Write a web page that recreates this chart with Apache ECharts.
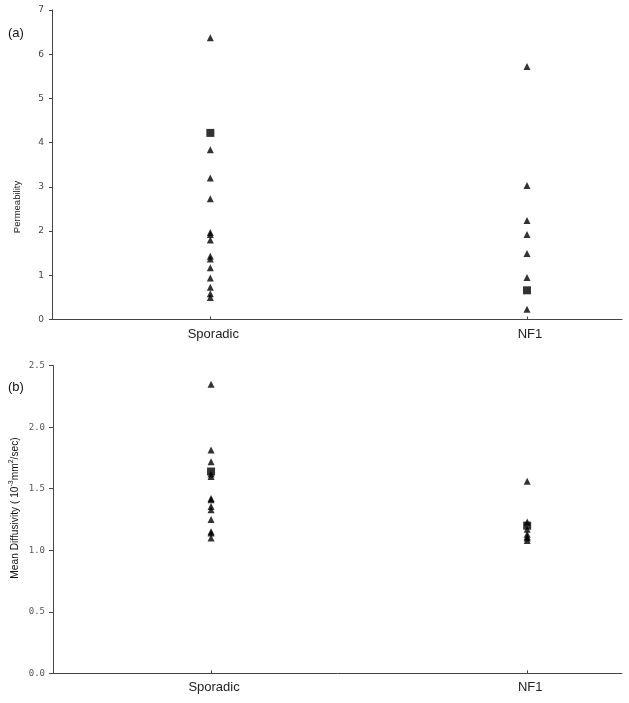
<!DOCTYPE html>
<html>
<head>
<meta charset="utf-8">
<script src="https://cdn.jsdelivr.net/npm/echarts@6/dist/echarts.min.js"></script>
<style>html,body{margin:0;padding:0;background:#fff}#c{width:629px;height:703px}</style>
</head>
<body>
<div id="c"></div>
<script>
// ---- data ----
var categories = ['Sporadic', 'NF1'];
// (a) Permeability
var permSporadic = [6.37, 3.84, 3.20, 2.73, 1.97, 1.92, 1.80, 1.43, 1.37, 1.17, 0.94, 0.73, 0.58, 0.50];
var permNF1 = [5.72, 3.03, 2.24, 1.92, 1.49, 0.95, 0.23];
var permMarked = [4.22, 0.66];           // square markers: Sporadic, NF1
var permTicks = [0, 1, 2, 3, 4, 5, 6, 7];
// (b) Mean diffusivity
var mdSporadic = [2.35, 1.815, 1.72, 1.62, 1.60, 1.42, 1.41, 1.355, 1.33, 1.25, 1.15, 1.14, 1.10];
var mdNF1 = [1.56, 1.23, 1.17, 1.13, 1.11, 1.10, 1.08];
var mdMarked = [1.64, 1.20];
var mdTicks = [0.0, 0.5, 1.0, 1.5, 2.0, 2.5];

function catX(i) { return 2 * i + 1; }
function pts(vals, i) { return vals.map(function (v) { return [catX(i), v]; }); }

var chart = echarts.init(document.getElementById('c'));
var axisColor = '#444';
function xAxisCfg(gi) {
  return {
    gridIndex: gi, type: 'value', min: 0, max: 3.6,
    axisLine: { lineStyle: { color: axisColor, width: 1 } },
    axisTick: { show: true, inside: true, length: 3, customValues: categories.map(function (c, i) { return catX(i); }), lineStyle: { color: axisColor } },
    axisLabel: {
      customValues: categories.map(function (c, i) { return catX(i); }),
      formatter: function (v) { return categories[(v - 1) / 2] || ''; },
      color: '#222', fontSize: 13, fontFamily: 'Liberation Sans, Arial, sans-serif', margin: 8,
      padding: [0, 0, 0, 6]
    },
    splitLine: { show: false }
  };
}
var option = {
  animation: false,
  backgroundColor: '#fff',
  grid: [
    { left: 52, right: 7, top: 10, bottom: 383.5 },
    { left: 53, right: 7, top: 365.7, bottom: 29.7 }
  ],
  xAxis: [xAxisCfg(0), xAxisCfg(1)],
  yAxis: [
    {
      gridIndex: 0, type: 'value', min: permTicks[0], max: permTicks[permTicks.length - 1], interval: 1,
      axisLine: { show: true, lineStyle: { color: axisColor } },
      axisTick: { show: true, length: 3, lineStyle: { color: axisColor } },
      axisLabel: { color: '#444', fontSize: 9, fontFamily: 'DejaVu Sans, sans-serif', margin: 8 },
      splitLine: { show: false }
    },
    {
      gridIndex: 1, type: 'value', min: mdTicks[0], max: mdTicks[mdTicks.length - 1], interval: 0.5,
      axisLine: { show: true, lineStyle: { color: axisColor } },
      axisTick: { show: true, length: 4, lineStyle: { color: axisColor } },
      axisLabel: { color: '#555', fontSize: 9, fontFamily: 'DejaVu Sans Mono, monospace', margin: 8,
        formatter: function (v) { return v.toFixed(1); } },
      splitLine: { show: false }
    }
  ],
  graphic: [
    { type: 'text', x: 8, y: 33, style: { text: '(a)', fontSize: 13, fontFamily: 'Liberation Sans, Arial, sans-serif', fill: '#111', verticalAlign: 'middle' } },
    { type: 'text', x: 8, y: 387, style: { text: '(b)', fontSize: 13, fontFamily: 'Liberation Sans, Arial, sans-serif', fill: '#111', verticalAlign: 'middle' } },
    { type: 'text', x: 17, y: 207, rotation: Math.PI / 2,
      style: { text: 'Permeability', fontSize: 9.5, fontFamily: 'Liberation Sans, Arial, sans-serif', fill: '#222', align: 'center', verticalAlign: 'middle' } },
    { type: 'text', x: 15, y: 508, rotation: Math.PI / 2,
      style: { text: 'Mean Diffusivity ( 10{sup|-3}mm{sup|2}/sec)', fontSize: 10.2, fontFamily: 'Liberation Sans, Arial, sans-serif', fill: '#111', align: 'center', verticalAlign: 'middle',
        rich: { sup: { fontSize: 7, fontFamily: 'Liberation Sans, Arial, sans-serif', fill: '#111', padding: [0, 0, 7, 0] } } } }
  ],
  series: [
    { type: 'scatter', xAxisIndex: 0, yAxisIndex: 0, symbol: 'triangle', symbolSize: 7, itemStyle: { color: '#000' }, data: pts(permSporadic, 0) },
    { type: 'scatter', xAxisIndex: 0, yAxisIndex: 0, symbol: 'triangle', symbolSize: 7, itemStyle: { color: '#000' }, data: pts(permNF1, 1) },
    { type: 'scatter', xAxisIndex: 0, yAxisIndex: 0, symbol: 'rect', symbolSize: 8, itemStyle: { color: '#000' }, data: permMarked.map(function (v, i) { return [catX(i), v]; }) },
    { type: 'scatter', xAxisIndex: 1, yAxisIndex: 1, symbol: 'triangle', symbolSize: 7, itemStyle: { color: '#000' }, data: pts(mdSporadic, 0) },
    { type: 'scatter', xAxisIndex: 1, yAxisIndex: 1, symbol: 'triangle', symbolSize: 7, itemStyle: { color: '#000' }, data: pts(mdNF1, 1) },
    { type: 'scatter', xAxisIndex: 1, yAxisIndex: 1, symbol: 'rect', symbolSize: 8, itemStyle: { color: '#000' }, data: mdMarked.map(function (v, i) { return [catX(i), v]; }) }
  ]
};
chart.setOption(option);
</script>
</body>
</html>
